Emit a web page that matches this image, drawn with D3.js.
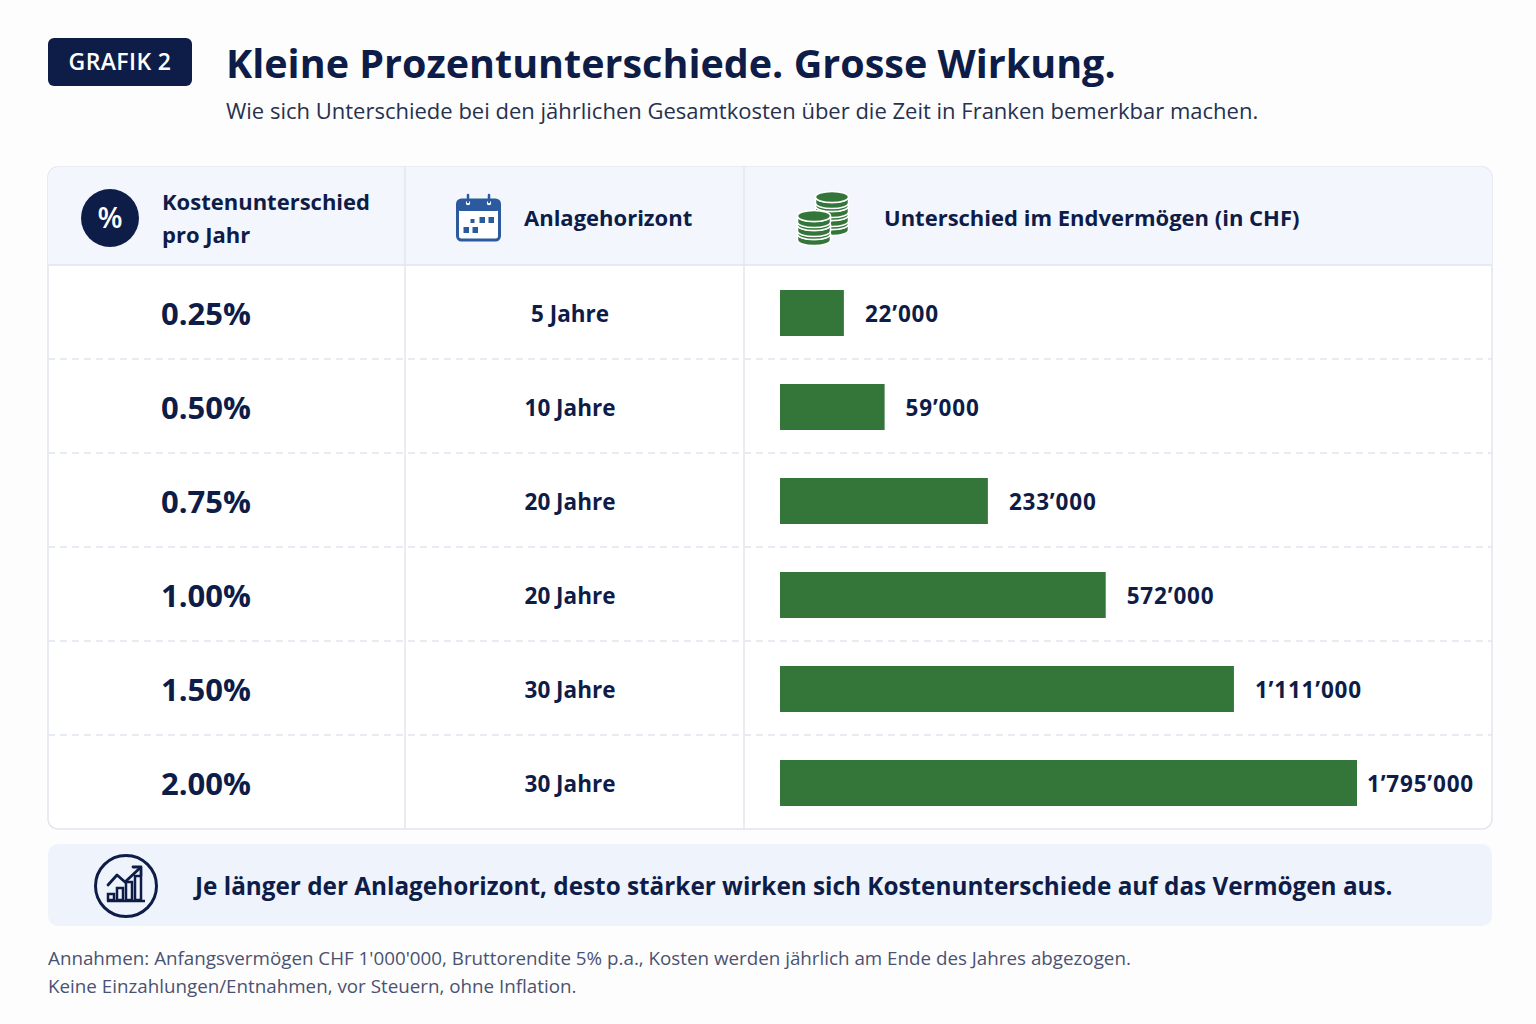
<!DOCTYPE html>
<html>
<head>
<meta charset="utf-8">
<script src="https://cdn.jsdelivr.net/npm/d3@7"></script>
<style>
  html, body { margin: 0; padding: 0; background: #fdfdfe; }
  svg { display: block; font-family: "Open Sans", "Lato", sans-serif; }
</style>
</head>
<body>
<script>
// chart values
var costDiff = [0.25, 0.50, 0.75, 1.00, 1.50, 2.00];      // % pro Jahr
var horizon = [5, 10, 20, 20, 30, 30];                     // Jahre
var wealthDiff = [22000, 59000, 233000, 572000, 1111000, 1795000]; // CHF

var columnHeads = [["Kostenunterschied", "pro Jahr"], ["Anlagehorizont"], ["Unterschied im Endvermögen (in CHF)"]];
var titleText = "Kleine Prozentunterschiede. Grosse Wirkung.";
var subtitleText = "Wie sich Unterschiede bei den jährlichen Gesamtkosten über die Zeit in Franken bemerkbar machen.";
var badgeText = "GRAFIK 2";
var calloutText = "Je länger der Anlagehorizont, desto stärker wirken sich Kostenunterschiede auf das Vermögen aus.";
var notes = ["Annahmen: Anfangsvermögen CHF 1'000'000, Bruttorendite 5% p.a., Kosten werden jährlich am Ende des Jahres abgezogen.",
             "Keine Einzahlungen/Entnahmen, vor Steuern, ohne Inflation."];

var NAVY = "#0e1c48", GREEN = "#347639", BLUE = "#2b5a9e";

var width = 1536, height = 1024;
var svg = d3.select("body").append("svg")
    .attr("width", width).attr("height", height);

var chf = d3.formatLocale({decimal: ".", thousands: "’", grouping: [3], currency: ["", ""]}).format(",d");
var pct = d3.format(".2f");

// table frame
var T = {x0: 48, x1: 1492, y0: 167, head: 265, y1: 829};
var colX = [48, 405, 744, 1492];

svg.append("rect")
    .attr("x", T.x0).attr("y", T.y0)
    .attr("width", T.x1 - T.x0).attr("height", T.y1 - T.y0)
    .attr("rx", 10).attr("fill", "#ffffff").attr("stroke", "#e2e5ee").attr("stroke-width", 1.5);

svg.append("clipPath").attr("id", "tclip").append("rect")
    .attr("x", T.x0).attr("y", T.y0)
    .attr("width", T.x1 - T.x0).attr("height", T.y1 - T.y0).attr("rx", 10);

svg.append("rect")
    .attr("clip-path", "url(#tclip)")
    .attr("x", T.x0).attr("y", T.y0)
    .attr("width", T.x1 - T.x0).attr("height", T.head - T.y0)
    .attr("fill", "#f3f6fc");

svg.append("line")
    .attr("x1", T.x0).attr("x2", T.x1).attr("y1", T.head).attr("y2", T.head)
    .attr("stroke", "#e0e4ee").attr("stroke-width", 1.5);

svg.selectAll(".coldiv").data(colX.slice(1, 3)).enter().append("line")
    .attr("class", "coldiv")
    .attr("x1", function(d) { return d; }).attr("x2", function(d) { return d; })
    .attr("y1", T.y0).attr("y2", T.y1)
    .attr("stroke", "#e3e6ee").attr("stroke-width", 1.5);

// rows
var y = d3.scaleBand().domain(d3.range(costDiff.length)).range([T.head, T.y1]);
var x = d3.scaleSqrt().domain([0, d3.max(wealthDiff)]).range([0, 577]);
var barX = 780, barH = 46;

svg.selectAll(".rowsep").data(d3.range(1, costDiff.length)).enter().append("line")
    .attr("class", "rowsep")
    .attr("x1", T.x0).attr("x2", T.x1)
    .attr("y1", function(i) { return y(i); }).attr("y2", function(i) { return y(i); })
    .attr("stroke", "#e2e5ee").attr("stroke-width", 1.5).attr("stroke-dasharray", "7,5");

var rows = svg.selectAll(".row").data(costDiff).enter().append("g")
    .attr("class", "row")
    .attr("transform", function(d, i) { return "translate(0," + (y(i) + y.bandwidth() / 2 + 2) + ")"; });

rows.append("text")
    .attr("x", 161).attr("dy", "0.36em")
    .attr("font-size", 31).attr("font-weight", 700).attr("fill", NAVY)
    .text(function(d) { return pct(d) + "%"; });

rows.append("text")
    .attr("x", 570).attr("dy", "0.36em").attr("text-anchor", "middle")
    .attr("font-size", 22.5).attr("font-weight", 700).attr("fill", NAVY)
    .text(function(d, i) { return horizon[i] + " Jahre"; });

rows.append("rect")
    .attr("x", barX).attr("y", -barH / 2 - 1)
    .attr("width", function(d, i) { return x(wealthDiff[i]); })
    .attr("height", barH)
    .attr("fill", GREEN);

rows.append("text")
    .attr("x", function(d, i) { return barX + x(wealthDiff[i]) + (i === 5 ? 10 : 21); })
    .attr("dy", "0.36em")
    .attr("font-size", 22.5).attr("font-weight", 700).attr("letter-spacing", 0.8).attr("fill", NAVY)
    .text(function(d, i) { return chf(wealthDiff[i]); });

// header texts
var head = svg.append("g").attr("font-size", 22).attr("font-weight", 700).attr("fill", NAVY);
head.append("text").attr("x", 162).attr("y", 210).text(columnHeads[0][0]);
head.append("text").attr("x", 162).attr("y", 243).text(columnHeads[0][1]);
head.append("text").attr("x", 524).attr("y", 226).text(columnHeads[1][0]);
head.append("text").attr("x", 884).attr("y", 226).text(columnHeads[2][0]);

// percent icon
svg.append("circle").attr("cx", 110).attr("cy", 218).attr("r", 29).attr("fill", NAVY);
svg.append("text").attr("x", 110).attr("y", 218).attr("dy", "0.36em").attr("text-anchor", "middle")
    .attr("font-size", 29).attr("font-weight", 600).attr("fill", "#fff").text("%");

// calendar icon
var cal = svg.append("g").attr("transform", "translate(456,195)");
cal.append("rect").attr("x", 1.5).attr("y", 5).attr("width", 42).attr("height", 40).attr("rx", 4)
    .attr("fill", "#fff").attr("stroke", BLUE).attr("stroke-width", 3);
cal.append("rect").attr("x", 1.5).attr("y", 5).attr("width", 42).attr("height", 11).attr("rx", 3).attr("fill", BLUE);
cal.selectAll(".ring").data([12, 33]).enter().append("circle")
    .attr("cx", function(d) { return d; }).attr("cy", 8).attr("r", 3)
    .attr("fill", "#fff").attr("stroke", BLUE).attr("stroke-width", 1.5);
cal.selectAll(".ring2").data([12, 33]).enter().append("line")
    .attr("x1", function(d) { return d; }).attr("x2", function(d) { return d; })
    .attr("y1", 0).attr("y2", 7).attr("stroke", BLUE).attr("stroke-width", 2.5).attr("stroke-linecap", "round");
cal.selectAll(".cell").data([[17, 24], [26, 22], [35, 22], [10, 32], [19, 32]]).enter().append("rect")
    .attr("x", function(d) { return d[0] - 2.5; }).attr("y", function(d) { return d[1]; })
    .attr("width", function(d, i) { return i === 0 ? 4 : 5.5; })
    .attr("height", function(d, i) { return i === 0 ? 4 : 6; })
    .attr("fill", BLUE);

// coins icon
function coinStack(g, cx, top, n, rx) {
  for (var k = n - 1; k >= 0; k--) {
    var cy = top + k * 9;
    g.append("path")
        .attr("d", "M" + (cx - rx) + "," + cy + " v6 a" + rx + ",5.5 0 0,0 " + (2 * rx) + ",0 v-6 a" + rx + ",5.5 0 0,1 " + (-2 * rx) + ",0 z")
        .attr("fill", GREEN).attr("stroke", "#fff").attr("stroke-width", 1.6);
    g.append("ellipse").attr("cx", cx).attr("cy", cy).attr("rx", rx).attr("ry", 5.5)
        .attr("fill", GREEN).attr("stroke", "#fff").attr("stroke-width", 1.6);
  }
}
var coins = svg.append("g");
coinStack(coins, 832, 197, 4, 16.5);
coinStack(coins, 814, 216, 3, 16.5);

// callout
svg.append("rect").attr("x", 48).attr("y", 844).attr("width", 1444).attr("height", 82).attr("rx", 10).attr("fill", "#eef3fc");
var ico = svg.append("g").attr("transform", "translate(126,886)")
    .attr("fill", "none").attr("stroke", NAVY).attr("stroke-width", 3);
ico.append("circle").attr("r", 30.5);
[[-15, 6, 8], [-6, 0, 14], [3, -6, 20], [12, -12, 26]].forEach(function(b) {
  ico.append("rect").attr("x", b[0] - 3).attr("y", 14 - b[2] + 2).attr("width", 6).attr("height", b[2] - 2)
      .attr("stroke-width", 2.5);
});
ico.append("line").attr("x1", -19).attr("x2", 19).attr("y1", 15).attr("y2", 15).attr("stroke-width", 2.5);
ico.append("polyline").attr("points", "-18,-1 -9,-11 -1,-4 14,-18").attr("stroke-width", 2.8)
    .attr("stroke-linejoin", "round").attr("stroke-linecap", "round");
ico.append("polyline").attr("points", "7,-19 15,-19 15,-11").attr("stroke-width", 2.8)
    .attr("stroke-linejoin", "round").attr("stroke-linecap", "round");

svg.append("text").attr("x", 195).attr("y", 895)
    .attr("font-size", 24.3).attr("font-weight", 700).attr("fill", NAVY).text(calloutText);

// title block
svg.append("rect").attr("x", 48).attr("y", 38).attr("width", 144).attr("height", 48).attr("rx", 6).attr("fill", NAVY);
svg.append("text").attr("x", 120).attr("y", 62).attr("dy", "0.36em").attr("text-anchor", "middle")
    .attr("font-size", 23).attr("font-weight", 600).attr("letter-spacing", 0.4).attr("fill", "#fff").text(badgeText);
svg.append("text").attr("x", 226).attr("y", 78)
    .attr("font-size", 39.5).attr("font-weight", 700).attr("fill", NAVY).text(titleText);
svg.append("text").attr("x", 226).attr("y", 119)
    .attr("font-size", 22).attr("fill", "#27314f").text(subtitleText);

// footnotes
svg.selectAll(".note").data(notes).enter().append("text")
    .attr("class", "note")
    .attr("x", 48).attr("y", function(d, i) { return 965 + i * 28; })
    .attr("font-size", 18.8).attr("fill", "#4a5270").text(function(d) { return d; });
</script>
</body>
</html>
